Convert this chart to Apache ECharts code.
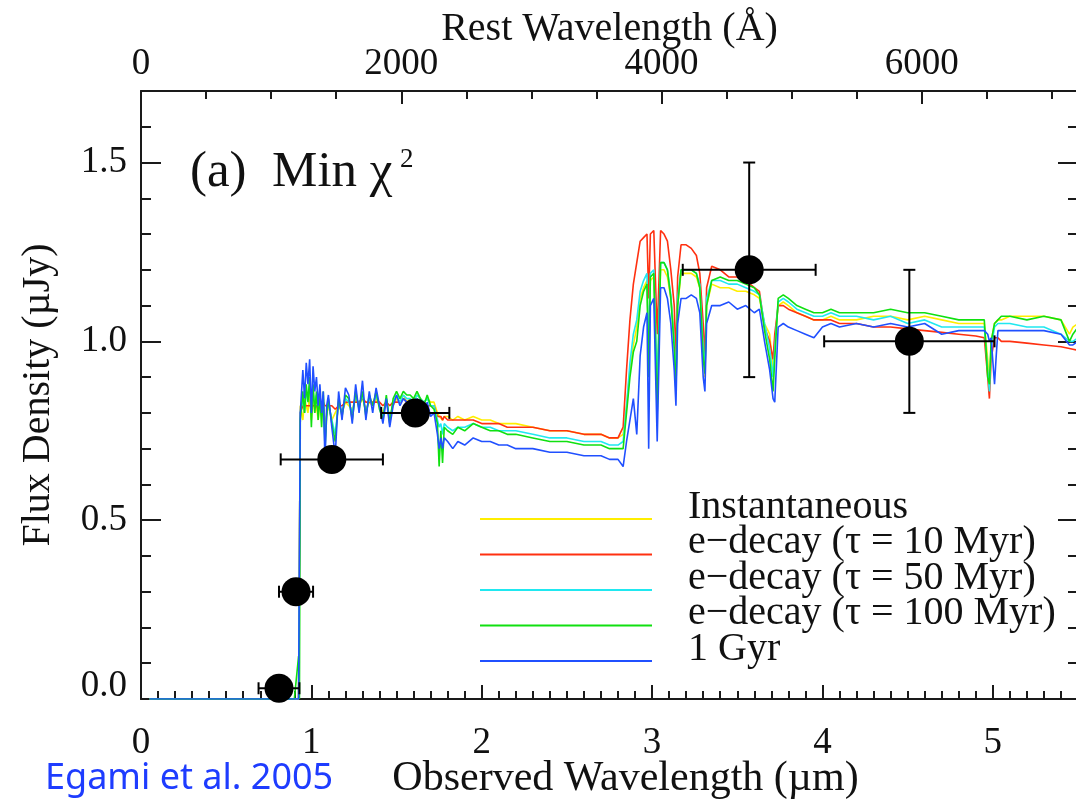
<!DOCTYPE html>
<html>
<head>
<meta charset="utf-8">
<script src="https://cdn.jsdelivr.net/npm/echarts@6/dist/echarts.min.js"></script>
<style>
html,body{margin:0;padding:0;background:#fff;}
#chart{width:1076px;height:800px;}
</style>
</head>
<body>
<div id="chart"></div>
<script>
// ---- data ----
const seriesNames = ['Instantaneous', 'e\u2212decay (\u03c4 = 10 Myr)', 'e\u2212decay (\u03c4 = 50 Myr)', 'e\u2212decay (\u03c4 = 100 Myr)', '1 Gyr'];
const seriesColors = ['#ffee00', '#ff3010', '#20e8f0', '#10e010', '#2050ff'];

const wl = [0.05,0.90,0.925,0.93,0.935,0.95,0.96,0.97,0.98,0.99,1.00,1.01,1.02,1.03,1.04,1.05,1.06,1.07,1.08,1.09,1.10,1.12,1.14,1.16,1.18,1.20,1.22,1.24,1.26,1.28,1.30,1.32,1.34,1.36,1.38,1.40,1.42,1.44,1.46,1.48,1.50,1.52,1.54,1.56,1.58,1.60,1.62,1.64,1.66,1.68,1.70,1.72,1.74,1.75,1.76,1.77,1.78,1.80,1.83,1.86,1.90,1.95,2.00,2.05,2.10,2.15,2.20,2.30,2.40,2.50,2.60,2.70,2.75,2.80,2.83,2.85,2.87,2.89,2.91,2.93,2.95,2.97,2.98,2.99,3.01,3.03,3.05,3.07,3.09,3.11,3.13,3.14,3.15,3.17,3.20,3.23,3.26,3.28,3.30,3.31,3.32,3.35,3.40,3.45,3.50,3.55,3.60,3.63,3.66,3.69,3.71,3.72,3.74,3.77,3.80,3.85,3.90,3.95,4.00,4.05,4.10,4.20,4.30,4.40,4.50,4.60,4.70,4.80,4.90,4.95,4.97,4.98,4.99,5.01,5.02,5.03,5.05,5.10,5.20,5.30,5.40,5.45,5.47,5.50];

const fluxInst = [0,0,0,0,0.82,0.78,0.84,0.82,0.80,0.86,0.78,0.84,0.80,0.82,0.78,0.83,0.80,0.84,0.76,0.80,0.82,0.78,0.80,0.82,0.80,0.83,0.82,0.81,0.84,0.82,0.84,0.81,0.83,0.82,0.84,0.82,0.80,0.83,0.79,0.82,0.84,0.83,0.85,0.83,0.84,0.83,0.85,0.84,0.83,0.84,0.83,0.83,0.80,0.79,0.79,0.78,0.79,0.79,0.78,0.79,0.78,0.79,0.78,0.78,0.77,0.77,0.77,0.76,0.75,0.75,0.74,0.74,0.73,0.73,0.74,0.82,0.92,0.99,1.04,1.12,1.15,1.17,0.98,1.17,1.18,0.90,1.20,1.20,1.18,1.12,1.02,0.88,1.10,1.19,1.19,1.19,1.18,1.15,1.00,0.90,1.10,1.16,1.15,1.15,1.14,1.14,1.13,1.12,1.05,1.02,0.92,1.00,1.10,1.11,1.10,1.08,1.07,1.06,1.06,1.07,1.06,1.06,1.07,1.07,1.06,1.07,1.06,1.05,1.05,1.05,0.95,0.88,1.00,1.05,1.05,1.06,1.06,1.07,1.07,1.07,1.06,1.02,1.04,1.05];

const fluxTau10 = [0,0,0,0,0.80,0.82,0.82,0.82,0.82,0.82,0.82,0.82,0.82,0.82,0.81,0.82,0.82,0.83,0.82,0.82,0.82,0.82,0.81,0.82,0.82,0.83,0.83,0.83,0.83,0.83,0.84,0.83,0.83,0.83,0.83,0.83,0.82,0.83,0.82,0.83,0.83,0.83,0.84,0.83,0.83,0.83,0.83,0.83,0.82,0.82,0.82,0.82,0.79,0.79,0.79,0.78,0.79,0.78,0.78,0.78,0.78,0.78,0.77,0.77,0.77,0.76,0.76,0.76,0.75,0.75,0.74,0.74,0.73,0.73,0.76,0.92,1.06,1.16,1.22,1.28,1.29,1.30,1.12,1.30,1.31,1.02,1.31,1.30,1.28,1.20,1.10,0.95,1.18,1.27,1.27,1.26,1.24,1.19,1.05,0.95,1.15,1.21,1.20,1.18,1.18,1.17,1.15,1.14,1.04,1.00,0.95,1.02,1.10,1.10,1.09,1.08,1.07,1.06,1.06,1.06,1.05,1.05,1.04,1.04,1.035,1.03,1.025,1.02,1.015,1.01,0.90,0.84,0.95,1.01,1.01,1.01,1.00,1.00,0.995,0.99,0.985,0.98,0.978,0.975];

const fluxTau50 = [0,0,0,0,0.80,0.84,0.80,0.86,0.84,0.88,0.80,0.86,0.82,0.85,0.80,0.84,0.79,0.85,0.72,0.80,0.83,0.78,0.74,0.83,0.80,0.84,0.83,0.80,0.85,0.82,0.85,0.80,0.84,0.82,0.85,0.82,0.79,0.84,0.78,0.83,0.85,0.83,0.85,0.84,0.84,0.83,0.85,0.84,0.83,0.84,0.82,0.82,0.78,0.76,0.77,0.74,0.77,0.76,0.75,0.76,0.76,0.77,0.76,0.76,0.75,0.75,0.75,0.74,0.73,0.73,0.72,0.72,0.71,0.71,0.72,0.82,0.94,1.02,1.06,1.14,1.17,1.19,0.95,1.19,1.20,0.88,1.22,1.22,1.20,1.13,1.00,0.88,1.12,1.20,1.20,1.20,1.19,1.16,0.98,0.92,1.12,1.17,1.17,1.16,1.16,1.15,1.14,1.13,1.05,0.98,0.90,0.98,1.11,1.12,1.11,1.09,1.08,1.07,1.07,1.08,1.07,1.07,1.06,1.07,1.05,1.06,1.04,1.04,1.04,1.04,0.92,0.86,0.98,1.04,1.04,1.05,1.05,1.05,1.04,1.04,1.02,1.00,1.00,1.01];

const fluxTau100 = [0,0,0.12,0,0.78,0.86,0.80,0.88,0.83,0.90,0.76,0.88,0.80,0.86,0.78,0.85,0.76,0.86,0.70,0.79,0.84,0.77,0.72,0.84,0.79,0.85,0.84,0.78,0.86,0.81,0.86,0.79,0.85,0.82,0.86,0.81,0.78,0.85,0.77,0.84,0.86,0.84,0.86,0.85,0.85,0.84,0.86,0.84,0.82,0.85,0.82,0.81,0.77,0.65,0.75,0.66,0.76,0.75,0.74,0.76,0.75,0.77,0.76,0.75,0.75,0.74,0.74,0.73,0.72,0.72,0.71,0.71,0.70,0.70,0.70,0.80,0.90,0.97,1.00,1.10,1.14,1.16,0.90,1.18,1.19,0.80,1.22,1.22,1.20,1.12,0.98,0.86,1.10,1.20,1.20,1.20,1.19,1.15,0.95,0.91,1.10,1.17,1.18,1.17,1.17,1.16,1.15,1.13,1.03,0.95,0.86,0.95,1.12,1.13,1.12,1.10,1.09,1.08,1.08,1.09,1.08,1.08,1.08,1.09,1.08,1.08,1.07,1.06,1.06,1.06,0.90,0.88,1.00,1.05,1.05,1.06,1.07,1.07,1.06,1.07,1.06,1.00,1.02,1.04];

const flux1Gyr = [0,0,0,0,0.80,0.92,0.84,0.94,0.88,0.95,0.80,0.93,0.86,0.90,0.82,0.88,0.80,0.86,0.66,0.82,0.85,0.76,0.68,0.86,0.78,0.87,0.85,0.77,0.88,0.80,0.89,0.78,0.86,0.80,0.87,0.82,0.77,0.84,0.76,0.82,0.85,0.82,0.84,0.83,0.82,0.80,0.84,0.83,0.80,0.83,0.79,0.80,0.74,0.70,0.73,0.70,0.73,0.72,0.70,0.72,0.71,0.73,0.72,0.72,0.71,0.71,0.70,0.70,0.69,0.69,0.68,0.68,0.67,0.67,0.65,0.72,0.78,0.84,0.74,0.96,1.04,1.08,0.70,1.10,1.12,0.72,1.15,1.15,1.12,1.05,0.92,0.82,1.05,1.12,1.12,1.13,1.12,1.08,0.90,0.86,1.05,1.10,1.10,1.11,1.09,1.10,1.08,1.09,1.00,0.92,0.84,0.83,1.04,1.05,1.04,1.03,1.02,1.01,1.04,1.05,1.04,1.05,1.04,1.05,1.04,1.05,1.02,1.03,1.03,1.03,1.02,1.00,1.01,0.88,0.96,1.03,1.03,1.03,1.03,1.03,1.02,0.99,0.99,1.00];

const obsX = [0.81, 0.91, 1.12, 1.61, 3.57, 4.51];
const obsY = [0.03, 0.30, 0.67, 0.80, 1.20, 1.00];
const obsXErr = [0.12, 0.10, 0.30, 0.20, 0.39, 0.50];
const obsYErr = [0.00, 0.00, 0.00, 0.00, 0.30, 0.20];

const bottomTicks = { min: 0, max: 5.5, interval: 1 };
const topTicks = { min: 0, max: 7200, interval: 2000 };
const leftTicks = { min: 0, max: 1.7, interval: 0.5 };

// ---- chart ----
const chart = echarts.init(document.getElementById('chart'), null, { renderer: 'canvas' });
const fluxes = [fluxInst, fluxTau10, fluxTau50, fluxTau100, flux1Gyr];
const SERIF = '"Liberation Serif", "Times New Roman", serif';
const axisCol = '#1a1a1a';
const TICKFS = 37;

const lineSeries = fluxes.map((f, k) => ({
  name: seriesNames[k],
  type: 'line',
  xAxisIndex: 0,
  yAxisIndex: 0,
  data: wl.map((x, i) => [x, f[i]]),
  showSymbol: false,
  symbol: 'none',
  lineStyle: { color: seriesColors[k], width: 1.6 },
  itemStyle: { color: seriesColors[k] },
  z: 2 + k,
  animation: false
}));

const errData = obsX.map((x, i) => [x, obsY[i], obsXErr[i], obsYErr[i]]);

function renderErr(params, api) {
  const x = api.value(0), y = api.value(1), xe = api.value(2), ye = api.value(3);
  const st = { stroke: '#000', lineWidth: 2 };
  const children = [];
  const cap = 6;
  if (xe > 0) {
    const a = api.coord([x - xe, y]), b = api.coord([x + xe, y]);
    children.push({ type: 'line', shape: { x1: a[0], y1: a[1], x2: b[0], y2: b[1] }, style: st });
    children.push({ type: 'line', shape: { x1: a[0], y1: a[1] - cap, x2: a[0], y2: a[1] + cap }, style: st });
    children.push({ type: 'line', shape: { x1: b[0], y1: b[1] - cap, x2: b[0], y2: b[1] + cap }, style: st });
  }
  if (ye > 0) {
    const a = api.coord([x, y - ye]), b = api.coord([x, y + ye]);
    children.push({ type: 'line', shape: { x1: a[0], y1: a[1], x2: b[0], y2: b[1] }, style: st });
    children.push({ type: 'line', shape: { x1: a[0] - cap, y1: a[1], x2: a[0] + cap, y2: a[1] }, style: st });
    children.push({ type: 'line', shape: { x1: b[0] - cap, y1: b[1], x2: b[0] + cap, y2: b[1] }, style: st });
  }
  return { type: 'group', children };
}

function axisCommon() {
  return {
    axisLine: { show: true, onZero: false, lineStyle: { color: axisCol, width: 2 } },
    splitLine: { show: false },
    minorSplitLine: { show: false },
    nameMoveOverlap: false
  };
}

const option = {
  animation: false,
  backgroundColor: '#fff',
  grid: { left: 141, top: 91, width: 937, height: 608, containLabel: false, outerBoundsMode: 'none' },
  legend: {
    data: seriesNames,
    orient: 'vertical',
    left: 480,
    top: 487,
    padding: 0,
    icon: 'rect',
    itemWidth: 172,
    itemHeight: 2,
    itemGap: -28.5,
    selectedMode: false,
    formatter: name => '{t|' + name + '}\n{g| }',
    textStyle: {
      fontFamily: SERIF, fontSize: 40, color: '#111', padding: [0, 0, 0, 31],
      rich: {
        t: { fontFamily: SERIF, fontSize: 40, lineHeight: 40, color: '#111' },
        g: { fontSize: 2, lineHeight: 24, height: 24 }
      }
    }
  },
  xAxis: [
    Object.assign(axisCommon(), {
      type: 'value', position: 'bottom',
      min: bottomTicks.min, max: bottomTicks.max, interval: bottomTicks.interval,
      name: 'Observed Wavelength (\u00b5m)', nameLocation: 'middle', nameGap: 59,
      nameTextStyle: { fontFamily: SERIF, fontSize: 42, color: '#111', padding: [0, 0, 0, 32] },
      axisTick: { show: true, inside: true, length: 14, lineStyle: { color: axisCol, width: 2 } },
      minorTick: { show: true, splitNumber: 10, length: 8, lineStyle: { color: axisCol, width: 2 } },
      axisLabel: { fontFamily: SERIF, fontSize: TICKFS, color: '#111', margin: 26, showMaxLabel: false,
        formatter: v => String(v) }
    }),
    Object.assign(axisCommon(), {
      type: 'value', position: 'top',
      min: topTicks.min, max: topTicks.max, interval: topTicks.interval,
      name: 'Rest Wavelength (\u00c5)', nameLocation: 'middle', nameGap: 42,
      nameTextStyle: { fontFamily: SERIF, fontSize: 40, color: '#111' },
      axisTick: { show: true, inside: true, length: 13, lineStyle: { color: axisCol, width: 2 } },
      minorTick: { show: true, splitNumber: 4, length: 8, lineStyle: { color: axisCol, width: 2 } },
      axisLabel: { fontFamily: SERIF, fontSize: TICKFS, color: '#111', margin: 8, showMaxLabel: false,
        formatter: v => String(v) }
    })
  ],
  yAxis: [
    Object.assign(axisCommon(), {
      type: 'value', position: 'left',
      min: leftTicks.min, max: leftTicks.max, interval: leftTicks.interval,
      name: 'Flux Density (\u00b5Jy)', nameLocation: 'middle', nameGap: 83,
      nameTextStyle: { fontFamily: SERIF, fontSize: 40, color: '#111' },
      axisTick: { show: true, inside: true, length: 20, lineStyle: { color: axisCol, width: 2 } },
      minorTick: { show: true, splitNumber: 5, length: 10, lineStyle: { color: axisCol, width: 2 } },
      axisLabel: { fontFamily: SERIF, fontSize: TICKFS, color: '#111', margin: 14, showMaxLabel: false,
        formatter: v => (v === 0 ? '{z|0.0}' : v.toFixed(1)),
        rich: { z: { fontFamily: SERIF, fontSize: TICKFS, color: '#111', padding: [0, 0, 26, 0] } } }
    }),
    Object.assign(axisCommon(), {
      type: 'value', position: 'right',
      min: leftTicks.min, max: leftTicks.max, interval: leftTicks.interval,
      axisTick: { show: true, inside: true, length: 20, lineStyle: { color: axisCol, width: 2 } },
      minorTick: { show: true, splitNumber: 5, length: 10, lineStyle: { color: axisCol, width: 2 } },
      axisLabel: { show: false }
    })
  ],
  graphic: [
    { type: 'text', left: 190, top: 147, z: 10,
      style: { text: '(a)  Min \u03c7', font: '51px "Liberation Serif"', fill: '#111' } },
    { type: 'text', left: 400, top: 146, z: 10,
      style: { text: '2', font: '27px "Liberation Serif"', fill: '#111' } },
    { type: 'text', left: 45, top: 761, z: 10,
      style: { text: 'Egami et al. 2005', font: '36px "Noto Sans"', fill: '#1e3cff' } }
  ],
  series: lineSeries.concat([
    {
      type: 'custom', name: 'errbars', xAxisIndex: 0, yAxisIndex: 0,
      renderItem: renderErr, data: errData, z: 10, silent: true
    },
    {
      type: 'scatter', name: 'obs', xAxisIndex: 0, yAxisIndex: 0,
      data: obsX.map((x, i) => [x, obsY[i]]),
      symbol: 'circle', symbolSize: 29,
      itemStyle: { color: '#000', opacity: 1 }, z: 11, silent: true
    }
  ])
};
chart.setOption(option);
</script>
</body>
</html>
